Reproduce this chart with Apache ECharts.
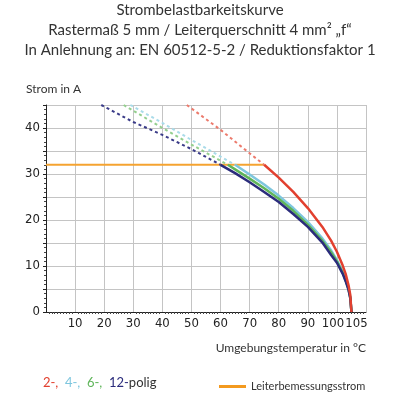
<!DOCTYPE html>
<html>
<head>
  <meta charset="UTF-8">
  <title>Strombelastbarkeitskurve</title>
  <style type="text/css">
    html, body { margin: 0; padding: 0; background: #ffffff; }
    #chart { width: 400px; height: 400px; }
  </style>
  <script src="https://cdn.jsdelivr.net/npm/echarts@6/dist/echarts.min.js"></script>
</head>
<body>
<div id="chart"></div>
<script type="text/javascript">
    // Temperatur (°C) / Strom (A)
    var temp12 = [60, 65, 70, 75, 80, 85, 90, 95, 98, 100, 102, 103, 104, 104.6, 105];
    var amp12  = [32, 30.2, 28.2, 26.1, 23.9, 21.3, 18.5, 15.1, 12.4, 10.7, 8.3, 6.7, 4.8, 3.0, 0];
    var temp6  = [62.5, 65, 70, 75, 80, 85, 90, 95, 98, 100, 102, 103, 104, 104.6, 105];
    var amp6   = [32, 31.0, 29.0, 26.9, 24.6, 22.0, 19.0, 15.5, 13.0, 11.0, 8.5, 6.9, 4.9, 3.1, 0];
    var temp4  = [65, 70, 75, 80, 85, 90, 95, 98, 100, 102, 103, 104, 104.6, 105];
    var amp4   = [32, 29.9, 27.7, 25.3, 22.6, 19.6, 16.0, 13.4, 11.3, 8.8, 7.2, 5.1, 3.2, 0];
    var temp2  = [75, 80, 85, 90, 95, 98, 100, 102, 103, 104, 104.6, 105];
    var amp2   = [32, 29.2, 26.1, 22.6, 18.5, 15.5, 13.1, 10.1, 8.3, 5.8, 3.7, 0];

    // gestrichelte Verlängerung oberhalb des Bemessungsstroms
    var tempDash12 = [19, 30, 40, 50, 60];
    var ampDash12  = [45, 41.3, 38.5, 35.4, 32];
    var tempDash6  = [26.7, 40, 50, 62.5];
    var ampDash6   = [45, 40.0, 36.4, 32];
    var tempDash4  = [29, 40, 50, 65];
    var ampDash4   = [45, 41.1, 37.4, 32];
    var tempDash2  = [48.4, 60, 70, 75];
    var ampDash2   = [45, 39.6, 34.5, 32];

    var tempRated = [0, 75];
    var ampRated  = [32, 32];

    var xLabels = [10, 20, 30, 40, 50, 60, 70, 80, 90, 100];
    var xLabelsExtra = [105];

    function pairs(xs, ys) {
        var out = [];
        for (var i = 0; i < xs.length; i++) {
            out.push([xs[i], ys[i]]);
        }
        return out;
    }

    function solid(name, xs, ys, color) {
        return {
            name: name, type: 'line', symbol: 'none', z: 3,
            data: pairs(xs, ys),
            lineStyle: { color: color, width: 2.5 }
        };
    }

    function dashed(xs, ys, color) {
        return {
            type: 'line', symbol: 'none', z: 2,
            data: pairs(xs, ys),
            lineStyle: { color: color, width: 2, type: [3, 3] }
        };
    }

    var font = 'Liberation Sans Narrow, DejaVu Sans Condensed, Liberation Sans, sans-serif';
    var tickFont = { fontFamily: font, fontSize: 13, color: '#222222' };
    // 100 und 105 stehen dicht beieinander, daher leicht auseinander geschoben
    var richX = {
        l: Object.assign({ padding: [0, 8, 0, 0] }, tickFont),
        r: Object.assign({ padding: [0, 0, 0, 10] }, tickFont)
    };

    var myChart = echarts.init(document.getElementById('chart'));
    var option = {
        animation: false,
        title: {
            text: 'Strombelastbarkeitskurve\nRastermaß 5 mm / Leiterquerschnitt 4 mm² „f“\nIn Anlehnung an: EN 60512-5-2 / Reduktionsfaktor 1',
            left: 'center',
            top: -5,
            textStyle: {
                fontFamily: 'Lato, sans-serif',
                fontWeight: 'normal',
                fontSize: 15,
                lineHeight: 20,
                color: '#333333'
            }
        },
        legend: {
            data: [{ name: 'Leiterbemessungsstrom', icon: 'rect' }],
            left: 214,
            top: 376,
            itemWidth: 27,
            itemHeight: 3,
            itemGap: 6,
            textStyle: { fontFamily: 'Lato, sans-serif', fontSize: 11, color: '#333333' }
        },
        graphic: [{
            type: 'text',
            left: 43,
            top: 376,
            style: {
                text: '{r|2-,}  {b|4-,}  {g|6-,}  {n|12-}{p|polig}',
                font: '13px Lato, sans-serif',
                rich: {
                    r: { fill: '#e2402f', fontSize: 13, fontFamily: 'Lato, sans-serif' },
                    b: { fill: '#7ec6de', fontSize: 13, fontFamily: 'Lato, sans-serif' },
                    g: { fill: '#5fb55a', fontSize: 13, fontFamily: 'Lato, sans-serif' },
                    n: { fill: '#2b2c7c', fontSize: 13, fontFamily: 'Lato, sans-serif' },
                    p: { fill: '#333333', fontSize: 13, fontFamily: 'Lato, sans-serif' }
                }
            }
        }],
        grid: { left: 46, right: 34, top: 105, bottom: 88 },
        xAxis: [{
            type: 'value',
            min: 0, max: 110, interval: 10,
            name: 'Umgebungstemperatur in °C',
            nameLocation: 'end',
            nameGap: 0,
            nameTextStyle: {
                align: 'right', verticalAlign: 'top',
                padding: [30, 0, 0, 0],
                fontFamily: 'Lato, sans-serif', fontSize: 12, color: '#333333'
            },
            axisLine: { onZero: false, lineStyle: { color: '#222222', width: 1 } },
            axisTick: { show: false },
            minorTick: { show: true, splitNumber: 10, length: 2, lineStyle: { color: '#444444' } },
            axisLabel: Object.assign({
                customValues: xLabels,
                hideOverlap: false,
                margin: 5,
                rich: richX,
                formatter: function (v) { return v === 100 ? '{l|100}' : String(v); }
            }, tickFont),
            splitLine: { show: true, lineStyle: { color: '#c4c4c4', width: 1 } }
        }, {
            type: 'value',
            position: 'bottom',
            min: 0, max: 110, interval: 10,
            axisLine: { show: false, onZero: false },
            axisTick: { show: false },
            splitLine: { show: false },
            axisLabel: Object.assign({
                customValues: xLabelsExtra,
                hideOverlap: false,
                margin: 5,
                rich: richX,
                formatter: function (v) { return '{r|' + v + '}'; }
            }, tickFont)
        }],
        yAxis: {
            type: 'value',
            min: 0, max: 45, interval: 5,
            name: 'Strom in A',
            nameLocation: 'end',
            nameGap: 10,
            nameTextStyle: {
                align: 'left', padding: [0, 0, 0, -20],
                fontFamily: 'Lato, sans-serif', fontSize: 12, color: '#333333'
            },
            axisLine: { show: true, lineStyle: { color: '#222222', width: 1 } },
            axisTick: { show: true, length: 3, lineStyle: { color: '#222222' } },
            minorTick: { show: true, splitNumber: 5, length: 2, lineStyle: { color: '#444444' } },
            axisLabel: Object.assign({
                margin: 6,
                formatter: function (v) { return v % 10 === 0 ? String(v) : ''; }
            }, tickFont),
            splitLine: { show: true, lineStyle: { color: '#c4c4c4', width: 1 } }
        },
        series: [
            dashed(tempDash12, ampDash12, '#3a3b88'),
            dashed(tempDash6, ampDash6, '#94cf8e'),
            dashed(tempDash4, ampDash4, '#a9dbe9'),
            dashed(tempDash2, ampDash2, '#ec7a6c'),
            {
                name: 'Leiterbemessungsstrom', type: 'line', symbol: 'none', z: 1,
                data: pairs(tempRated, ampRated),
                itemStyle: { color: '#f39a1f' },
                lineStyle: { color: '#f5a330', width: 2 }
            },
            solid('4-polig', temp4, amp4, '#7ec6de'),
            solid('6-polig', temp6, amp6, '#5fb55a'),
            solid('12-polig', temp12, amp12, '#2b2c7c'),
            solid('2-polig', temp2, amp2, '#e2402f')
        ]
    };
    myChart.setOption(option);
</script>
</body>
</html>
